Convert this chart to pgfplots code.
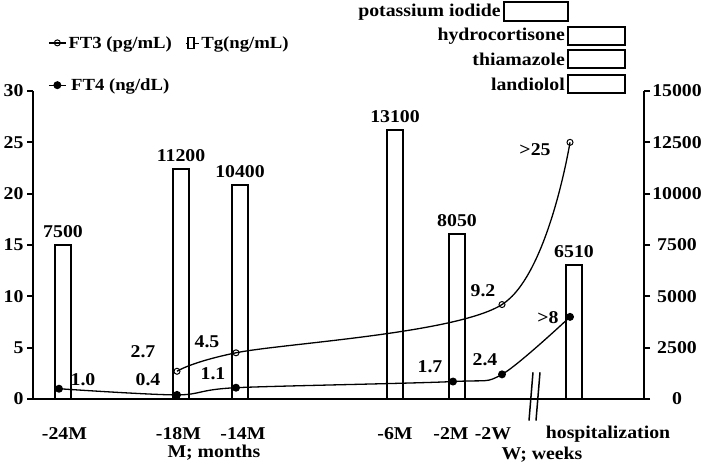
\documentclass[border=0pt]{standalone}
\usepackage{fontspec}
\setmainfont{Liberation Serif}[FakeStretch=1.1]
\usepackage{pgfplots}
\pgfplotsset{compat=1.18}
\pgfplotsset{/pgf/number format/1000 sep={}, /pgf/number format/assume math mode=true}
\newcommand{\numfont}{\bfseries\fontsize{18}{20}\selectfont}
\newcommand{\legfont}{\bfseries\fontsize{17}{19}\selectfont}
\begin{document}
\begin{tikzpicture}
\useasboundingbox (0pt,0pt) rectangle (709pt,466pt);
% ---- FT3 / FT4, left axis ----
\begin{axis}[
  name=main,
  at={(33pt,67pt)}, anchor=south west, scale only axis,
  width=611pt, height=308pt,
  xmin=3.3, xmax=64.4, ymin=0, ymax=30,
  axis y line*=left, axis x line*=bottom,
  axis line style={line width=2pt},
  ytick={0,5,10,15,20,25,30},
  xtick={6.45,17.85,24.3,39.5,45.1,49.3,60.8},
  xticklabels={-24M,-18M,-14M,-6M,-2M,-2W,hospitalization},
  x tick style={draw=none},
  tick align=outside, major tick length=6pt,
  y tick style={line width=2pt, black},
  yticklabel style={font=\numfont},
  xticklabel style={font=\numfont, anchor=center, inner sep=0pt, yshift=-29pt},
  clip=false,
  legend columns=2,
  legend style={draw=none, fill=none, font=\legfont, inner sep=0pt,
    at={(0.0245,1.185)}, anchor=north west,
    row sep=25pt,
    /tikz/every even column/.append style={column sep=12pt}},
]
\addplot[smooth, black, line width=1.3pt, mark=o, mark size=3pt,
  mark options={fill=white, line width=1pt}] coordinates {
  (17.7,2.7) (23.6,4.5) (50.2,9.2) (57.0,25)};
\addlegendentry{FT3 (pg/mL)}
\addlegendimage{legend image code/.code={\path (0pt,0pt) -- (13pt,0pt); \draw[line width=1.3pt, fill=white] (2pt,-5.5pt) rectangle (8pt,5.5pt);}}
\addlegendentry{Tg(ng/mL)}
\addplot[smooth, black, line width=1.3pt, mark=*, mark size=3.3pt] coordinates {
  (5.9,1.0) (17.7,0.4) (23.6,1.1) (45.3,1.7) (50.2,2.4) (57.0,8)};
\addlegendentry{FT4 (ng/dL)}
% value labels
\node[font=\numfont] at (axis cs:8.3,1.85) {1.0};
\node[font=\numfont] at (axis cs:14.8,1.85) {0.4};
\node[font=\numfont] at (axis cs:14.3,4.6) {2.7};
\node[font=\numfont] at (axis cs:20.7,5.55) {4.5};
\node[font=\numfont] at (axis cs:21.3,2.45) {1.1};
\node[font=\numfont] at (axis cs:43.0,3.1) {1.7};
\node[font=\numfont] at (axis cs:48.5,3.8) {2.4};
\node[font=\numfont] at (axis cs:48.3,10.6) {9.2};
\node[font=\numfont] at (axis cs:54.8,7.9) {>8};
\node[font=\numfont] at (axis cs:53.5,24.25) {>25};
% axis break
\draw[line width=1.5pt] (axis cs:53.3,2.6) -- (axis cs:52.9,-2.1);
\draw[line width=1.5pt] (axis cs:54.0,2.6) -- (axis cs:53.6,-2.1);
% x group titles
\node[font=\numfont, inner sep=0pt] at (axis cs:21.4,-5.2) {M; months};
\node[font=\numfont, inner sep=0pt] at (axis cs:54.2,-5.4) {W; weeks};
\end{axis}
% ---- Tg bars, right axis ----
\begin{axis}[
  at={(main.south west)}, anchor=south west, scale only axis,
  width=611pt, height=308pt,
  xmin=3.3, xmax=64.4, ymin=0, ymax=15000,
  axis y line*=right, axis x line*=bottom, xtick=\empty,
  axis line style={line width=2pt},
  ytick={0,2500,5000,7500,10000,12500,15000}, scaled y ticks=false,
  tick align=outside, major tick length=6pt,
  tick style={line width=2pt, black},
  yticklabel style={font=\numfont, anchor=center, xshift=27pt},
  clip=false,
]
\addplot[ybar, bar width=16pt, draw=black, fill=none, line width=2pt,
  nodes near coords, nodes near coords style={font=\numfont, yshift=3pt}] coordinates {
  (6.3,7500) (18.1,11200) (24.0,10400) (39.5,13100) (45.7,8050) (57.4,6510)};
\end{axis}
% ---- drug boxes ----
\begin{scope}[font=\numfont, x=1pt, y=1pt]
\node[anchor=east, inner sep=1pt] at (502,454) {potassium iodide};
\draw[line width=1.5pt] (504,464) rectangle (568,445);
\node[anchor=east, inner sep=1pt] at (566,430) {hydrocortisone};
\draw[line width=1.5pt] (568,439) rectangle (625,421);
\node[anchor=east, inner sep=1pt] at (566,407) {thiamazole};
\draw[line width=1.5pt] (568,416) rectangle (625,398);
\node[anchor=east, inner sep=1pt] at (566,382) {landiolol};
\draw[line width=1.5pt] (568,391) rectangle (625,373);
\end{scope}
\end{tikzpicture}
\end{document}
